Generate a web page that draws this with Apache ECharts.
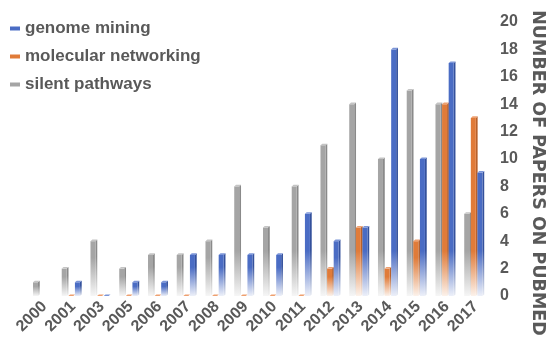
<!DOCTYPE html>
<html>
<head>
<meta charset="utf-8">
<script src="https://cdn.jsdelivr.net/npm/echarts@6/dist/echarts.min.js"></script>
<style>
  html, body { margin: 0; padding: 0; background: #fff; }
  #chart { width: 551px; height: 346px; }
</style>
</head>
<body>
<div id="chart"></div>
<script>
// Publication years shown on the category axis
const years = ['2000', '2001', '2003', '2005', '2006', '2007', '2008', '2009',
               '2010', '2011', '2012', '2013', '2014', '2015', '2016', '2017'];

// Papers per year for each search topic (null = no bar drawn)
const genomeMining = [null, 1, 0, 1, 1, 3, 3, 3, 3, 6, 4, 5, 18, 10, 17, 9];
const molecularNetworking = [null, 0, 0, 0, 0, 0, 0, 0, 0, 0, 2, 5, 2, 4, 14, 13];
const silentPathways = [1, 2, 4, 2, 3, 3, 4, 8, 5, 8, 11, 14, 10, 15, 14, 6];

// Value-axis ticks
const yTicks = { min: 0, max: 20, step: 2 };

const FONT = '"Liberation Sans", Arial, sans-serif';
const TEXT = '#595959';

function hexToRgb(h) {
  const n = parseInt(h.slice(1), 16);
  return [(n >> 16) & 255, (n >> 8) & 255, n & 255];
}
function tint(hex, k) { // k = share of the colour kept, rest is white
  const [r, g, b] = hexToRgb(hex);
  const m = c => Math.round(255 - (255 - c) * k);
  return `rgb(${m(r)},${m(g)},${m(b)})`;
}

// Small extruded bar: front face, right side face and top face.
// slot: 0 = back (left), 1 = middle, 2 = front (right)
function make3DBar(slot, front, side, topc) {
  return function (params, api) {
    const idx = api.value(0);
    const val = api.value(1);
    const base = api.coord([idx, 0]);
    const top = api.coord([idx, val]);
    const fw = 5.0, dx = 1.8, dy = 1.6, step = 6.6;
    const x0 = base[0] - 11.4 + slot * step;
    const yB = base[1], yT = top[1];
    const h = Math.max(yB - yT, 0.001);
    const fade = Math.min(45, 0.7 * h);
    const solidStop = Math.max(0, (h - fade) / h);
    const grad = (c) => new echarts.graphic.LinearGradient(0, 0, 0, 1, [
      { offset: 0, color: c },
      { offset: solidStop, color: c },
      { offset: 1, color: tint(c, 0.1) }
    ]);
    const children = [];
    if (h > 0.5) {
      children.push({
        type: 'polygon',
        shape: { points: [[x0 + fw, yT], [x0 + fw + dx, yT - dy], [x0 + fw + dx, yB - dy], [x0 + fw, yB]] },
        style: { fill: grad(side) }
      });
      children.push({
        type: 'rect',
        shape: { x: x0, y: yT, width: fw, height: h },
        style: { fill: grad(front) }
      });
    }
    children.push({
      type: 'polygon',
      shape: { points: [[x0, yT], [x0 + dx, yT - dy], [x0 + fw + dx, yT - dy], [x0 + fw, yT]] },
      style: { fill: topc }
    });
    return { type: 'group', children };
  };
}

function toData(arr) {
  const out = [];
  arr.forEach((v, i) => { if (v !== null) out.push([i, v]); });
  return out;
}

const chart = echarts.init(document.getElementById('chart'), null, { renderer: 'canvas' });

chart.setOption({
  animation: false,
  backgroundColor: '#ffffff',
  legend: {
    orient: 'vertical',
    left: 5,
    top: 15,
    itemWidth: 10,
    itemHeight: 4,
    itemGap: 11,
    icon: 'rect',
    textStyle: { fontFamily: FONT, fontSize: 17, fontWeight: 'bold', color: TEXT },
    data: ['genome mining', 'molecular networking', 'silent pathways']
  },
  grid: { left: 30, right: 61, top: 22, bottom: 50 },
  xAxis: {
    type: 'category',
    data: years,
    axisLine: { show: false },
    axisTick: { show: false },
    axisLabel: {
      interval: 0, rotate: 45, margin: 8,
      fontFamily: FONT, fontSize: 16, fontWeight: 'bold', color: TEXT
    }
  },
  yAxis: {
    type: 'value',
    position: 'right',
    min: yTicks.min, max: yTicks.max, interval: yTicks.step,
    axisLine: { show: false },
    axisTick: { show: false },
    splitLine: { show: false },
    axisLabel: { margin: 10, fontFamily: FONT, fontSize: 16, fontWeight: 'bold', color: TEXT }
  },
  graphic: [{
    type: 'text',
    x: 538, y: 173,
    rotation: -Math.PI / 2,
    style: {
      text: 'NUMBER OF PAPERS ON PUBMED',
      fontFamily: '"DejaVu Sans", sans-serif', fontSize: 17.5, fontWeight: 'bold',
      fill: TEXT, align: 'center', verticalAlign: 'middle'
    }
  }],
  series: [
    {
      name: 'silent pathways', type: 'custom', z: 1,
      itemStyle: { color: '#a5a5a5' },
      renderItem: make3DBar(0, '#a5a5a5', '#8a8a8a', '#c4c4c4'),
      encode: { x: 0, y: 1 },
      data: toData(silentPathways)
    },
    {
      name: 'molecular networking', type: 'custom', z: 2,
      itemStyle: { color: '#e07b39' },
      renderItem: make3DBar(1, '#e07b39', '#b8602a', '#eea070'),
      encode: { x: 0, y: 1 },
      data: toData(molecularNetworking)
    },
    {
      name: 'genome mining', type: 'custom', z: 3,
      itemStyle: { color: '#4a6cc4' },
      renderItem: make3DBar(2, '#4a6cc4', '#34519c', '#7b95d8'),
      encode: { x: 0, y: 1 },
      data: toData(genomeMining)
    }
  ]
});
</script>
</body>
</html>
